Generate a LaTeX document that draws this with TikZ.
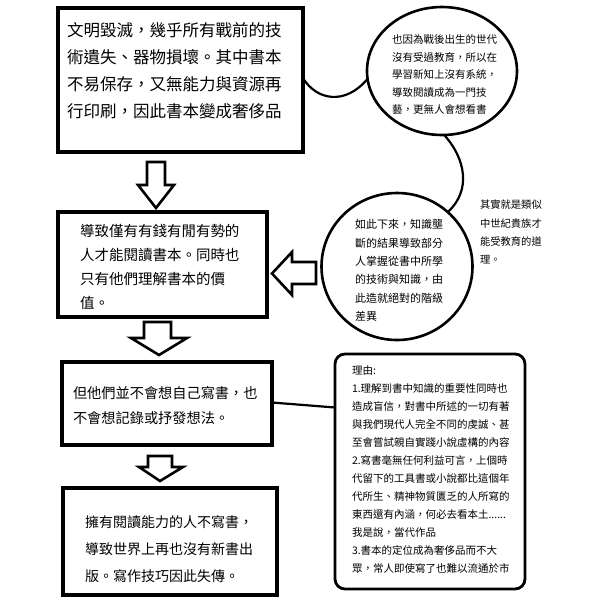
\documentclass[tikz,border=0pt]{standalone}
\usepackage{fontspec}
\newfontfamily\cjk{Noto Sans CJK TC}
\usetikzlibrary{shapes.geometric}
\begin{document}
\begin{tikzpicture}[x=1pt,y=-1pt,
  boxed/.style={draw=black,line width=3.5pt,minimum width=#1,inner sep=0pt,outer sep=0pt},
  circ/.style={ellipse,draw=black,line width=2.6pt,inner sep=0pt,outer sep=0pt},
  txt/.style={anchor=north west,align=left,inner sep=0pt,outer sep=0pt,text=black},
  blockarrow/.style={draw=black,line width=2.6pt,fill=white,line join=miter},
  link/.style={draw=black,line width=2.2pt,line cap=round}]
\useasboundingbox (0,0) rectangle (600,600);
\fill[white] (0,0) rectangle (600,600);
% boxes
\node[boxed=245pt,minimum height=144pt] (b1) at (180.5,80) {};
\node[boxed=209pt,minimum height=105pt] (b2) at (162.5,264.5) {};
\node[boxed=210pt,minimum height=83pt] (b3) at (167,403.5) {};
\node[boxed=214pt,minimum height=107pt] (b4) at (170,541.5) {};
\node[draw=black,line width=2.8pt,rounded corners=10pt,minimum width=190pt,minimum height=235pt,inner sep=0pt,outer sep=0pt] (r) at (430,471.5) {};
\node[circ,minimum width=150pt,minimum height=128pt] (e1) at (442,71) {};
\node[circ,minimum width=151pt,minimum height=147pt] (e2) at (397,266.5) {};
% connectors
\draw[link] ([yshift=2pt]b1.east) .. controls (316,100) and (345,106) .. (e1.186);
\draw[link] (e1.-88) .. controls (465,158) and (472,190) .. (e2.47);
\draw[link] ([yshift=1pt]b3.east) -- ([yshift=-4pt]b3.east -| r.west);
% block arrows
\draw[blockarrow] (147,162) -- (165,162) -- (165,185) -- (174,185) -- (156,208) -- (138,185) -- (147,185) -- cycle;
\draw[blockarrow] (144,322) -- (171,322) -- (171,338) -- (187,338) -- (159,355) -- (131,338) -- (144,338) -- cycle;
\draw[blockarrow] (148,456) -- (172,456) -- (172,467) -- (183,467) -- (160,481) -- (139,467) -- (148,467) -- cycle;
\draw[blockarrow] (316,262) -- (292,262) -- (292,252) -- (272,273.5) -- (292,295) -- (292,284) -- (316,284) -- cycle;
% texts
\node[txt,font=\cjk\fontsize{16.5}{27}\selectfont] (t1) at (67,23) {文明毀滅，幾乎所有戰前的技\\術遺失、器物損壞。其中書本\\不易保存，又無能力與資源再\\行印刷，因此書本變成奢侈品};
\node[txt,font=\cjk\fontsize{14.5}{24}\selectfont] (t2) at (80,224) {導致僅有有錢有閒有勢的\\人才能閱讀書本。同時也\\只有他們理解書本的價\\值。};
\node[txt,font=\cjk\fontsize{14.2}{25}\selectfont] (t3) at (73,386) {但他們並不會想自己寫書，也\\不會想記錄或抒發想法。};
\node[txt,font=\cjk\fontsize{14}{27}\selectfont] (t4) at (85,516) {擁有閱讀能力的人不寫書，\\導致世界上再也沒有新書出\\版。寫作技巧因此失傳。};
\node[txt,font=\cjk\fontsize{10.5}{17.5}\selectfont] (t5) at (392,35) {也因為戰後出生的世代\\沒有受過教育，所以在\\學習新知上沒有系統，\\導致閱讀成為一門技\\藝，更無人會想看書};
\node[txt,font=\cjk\fontsize{11}{18.4}\selectfont] (t6) at (355,219.5) {如此下來，知識壟\\斷的結果導致部分\\人掌握從書中所學\\的技術與知識，由\\此造就絕對的階級\\差異};
\node[txt,font=\cjk\fontsize{10.3}{18.3}\selectfont] (t7) at (480,200) {其實就是類似\\中世紀貴族才\\能受教育的道\\理。};
\node[txt,font=\cjk\fontsize{10.5}{18}\selectfont] (t8) at (352,366) {理由:\\1.理解到書中知識的重要性同時也\\造成盲信，對書中所述的一切有著\\與我們現代人完全不同的虔誠、甚\\至會嘗試親自實踐小說虛構的內容\\2.寫書毫無任何利益可言，上個時\\代留下的工具書或小說都比這個年\\代所生、精神物質匱乏的人所寫的\\東西還有內涵，何必去看本土......\\我是說，當代作品\\3.書本的定位成為奢侈品而不大\\眾，常人即使寫了也難以流通於市};
\end{tikzpicture}
\end{document}
